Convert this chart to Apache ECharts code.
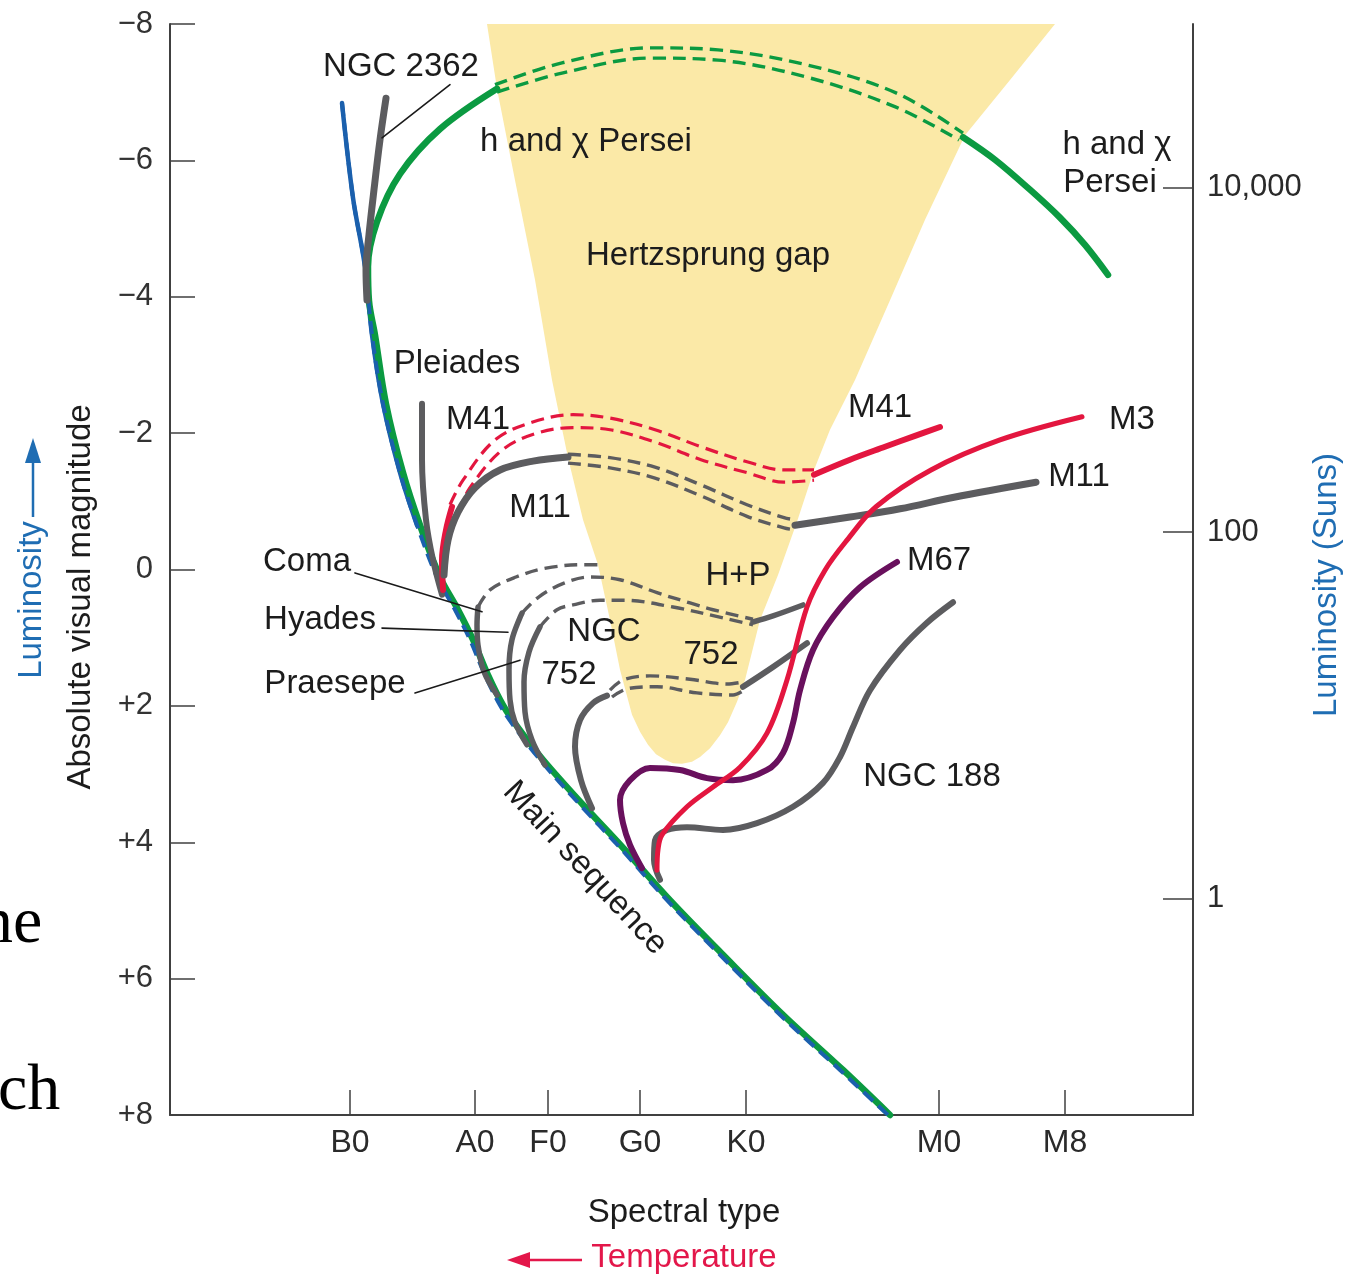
<!DOCTYPE html>
<html>
<head>
<meta charset="utf-8">
<script src="https://cdn.jsdelivr.net/npm/echarts@6/dist/echarts.min.js"></script>
<style>
html,body{margin:0;padding:0;background:#ffffff;}
#c{width:1349px;height:1278px;}
</style>
</head>
<body>
<div id="c"></div>
<script>
// ---------- axis data ----------
const spectralTypes = ['B0', 'A0', 'F0', 'G0', 'K0', 'M0', 'M8'];
const spectralPos = [18.0, 30.5, 37.8, 47.0, 57.6, 76.9, 89.5];
const lumLabels = ['10,000', '100', '1'];
const lumMags = [-5.6, -0.55, 4.83];

// ---------- curves: [spectral index, absolute magnitude] ----------
const mainSeq = [[17.2,-6.84],[18.3,-5.45],[19.5,-4.44],[20.2,-3.44],[21.3,-2.43],[23.0,-1.42],[24.7,-0.65],[26.7,0.11],[28.5,0.59],[30.0,1.03],[31.5,1.55],[33.0,1.99],[34.5,2.32],[37.0,2.79],[41.0,3.45],[45.0,4.08],[49.7,4.85],[55.0,5.65],[61.0,6.53],[67.0,7.34],[71.8,8.0]];
const mainSeqUpper = [[17.2,-6.84],[18.3,-5.45],[19.5,-4.44],[20.2,-3.44],[21.3,-2.43],[23.0,-1.42],[24.7,-0.65]];

const hchiSolidLeft = [[32.7,-7.05],[27.0,-6.46],[23.0,-5.80],[20.7,-5.10],[19.8,-4.44],[19.9,-3.94],[20.5,-3.44],[21.6,-2.43],[23.3,-1.42],[25.0,-0.65],[27.0,0.11],[28.8,0.59],[30.3,1.03],[31.8,1.55],[33.3,1.99],[34.8,2.32],[37.3,2.79],[41.3,3.45],[45.3,4.08],[50.0,4.85],[55.3,5.65],[61.3,6.53],[67.3,7.34],[72.0,8.0]];
const hchiDashUpper = [[32.5,-7.11],[39.2,-7.43],[48.1,-7.65],[54.8,-7.62],[63.7,-7.40],[72.6,-6.99],[79.3,-6.40]];
const hchiDashLower = [[32.7,-7.00],[39.2,-7.28],[48.1,-7.50],[54.8,-7.47],[63.7,-7.22],[72.6,-6.78],[78.9,-6.30]];
const hchiSolidRight = [[79.3,-6.34],[82.5,-6.01],[86.0,-5.57],[89.0,-5.16],[91.5,-4.76],[93.8,-4.32]];

const ngc2362 = [[21.6,-6.91],[21.0,-6.30],[20.4,-5.57],[19.9,-4.91],[19.6,-4.39],[19.7,-3.95]];
const pleiades = [[25.2,-2.43],[25.2,-1.61],[25.6,-0.73],[26.3,-0.14],[27.2,0.37]];

const m41Left = [[27.3,0.30],[27.2,-0.14],[27.6,-0.58],[28.2,-0.92]];
const m41DashUpper = [[28.0,-0.95],[29.3,-1.31],[32.5,-1.90],[36.2,-2.16],[40.3,-2.27],[44.0,-2.22],[48.5,-2.05],[53.1,-1.80],[57.7,-1.58],[61.4,-1.46],[64.4,-1.46]];
const m41DashLower = [[28.8,-0.84],[30.0,-1.20],[33.2,-1.75],[36.7,-2.00],[40.3,-2.08],[44.0,-2.05],[48.5,-1.87],[53.1,-1.61],[57.7,-1.42],[61.4,-1.28],[64.4,-1.31]];
const m41Right = [[64.4,-1.39],[68.0,-1.61],[71.5,-1.80],[74.5,-1.96],[77.0,-2.09]];

const m11Left = [[27.4,0.08],[27.8,-0.43],[28.8,-0.84],[30.5,-1.20],[33.0,-1.46],[36.3,-1.59],[39.8,-1.65]];
const m11DashUpper = [[39.8,-1.69],[44.0,-1.64],[48.5,-1.50],[53.1,-1.24],[57.7,-0.95],[61.4,-0.76],[62.5,-0.73]];
const m11DashLower = [[39.8,-1.56],[44.0,-1.49],[48.5,-1.34],[53.1,-1.08],[57.7,-0.78],[61.4,-0.61],[62.5,-0.58]];
const m11Right = [[62.5,-0.65],[68.0,-0.77],[73.0,-0.89],[78.4,-1.06],[86.6,-1.28]];

const m3 = [[48.7,4.41],[48.8,4.11],[49.2,3.89],[51.7,3.48],[54.3,3.19],[57.0,2.90],[59.7,2.40],[61.7,1.62],[63.7,0.55],[65.5,0.01],[67.7,-0.43],[70.6,-0.92],[76.1,-1.46],[83.0,-1.90],[91.2,-2.24]];
const m67 = [[47.2,4.38],[46.0,4.04],[45.3,3.72],[45.0,3.38],[46.0,3.09],[48.0,2.91],[51.0,2.94],[53.7,3.06],[56.3,3.09],[59.7,2.94],[61.3,2.69],[62.3,2.25],[63.0,1.77],[64.3,1.18],[66.3,0.70],[69.0,0.26],[72.7,-0.11]];
const ngc188 = [[49.0,4.55],[48.4,4.26],[48.5,3.97],[49.7,3.82],[51.7,3.78],[55.3,3.82],[58.7,3.72],[62.3,3.48],[65.3,3.13],[67.0,2.75],[68.3,2.31],[70.0,1.77],[73.0,1.18],[75.7,0.78],[78.3,0.48]];

const ngc752Left = [[42.2,3.50],[41.1,3.09],[40.5,2.60],[41.0,2.21],[42.3,1.96],[43.7,1.85]];
const ngc752DashUpper = [[44.0,1.77],[45.3,1.62],[48.0,1.56],[52.0,1.61],[55.7,1.68],[57.3,1.65]];
const ngc752DashLower = [[44.2,1.87],[45.7,1.75],[48.7,1.72],[52.7,1.81],[56.3,1.84],[57.3,1.78]];
const ngc752Right = [[57.3,1.72],[60.3,1.43],[63.7,1.08]];

const comaSolid = [[32.7,1.84],[31.4,1.50],[30.8,1.11],[30.7,0.81],[30.8,0.55]];
const comaDash = [[30.8,0.55],[32.0,0.30],[34.6,0.11],[37.6,-0.02],[41.3,-0.07],[42.8,-0.07]];
const hyadesSolid = [[35.7,2.57],[34.5,2.24],[34.0,1.91],[33.9,1.47],[34.2,1.03],[35.2,0.64]];
const hyadesDash = [[35.2,0.64],[36.9,0.40],[39.4,0.20],[42.0,0.11],[45.0,0.15],[48.7,0.34],[52.0,0.49],[54.3,0.59],[58.3,0.73]];
const praesepeSolid = [[37.5,2.87],[36.2,2.50],[35.5,2.09],[35.4,1.65],[35.9,1.21],[37.0,0.84]];
const praesepeDash = [[37.0,0.84],[38.7,0.59],[40.3,0.52],[43.0,0.45],[45.3,0.45],[50.3,0.55],[55.3,0.71],[58.3,0.81]];
const hpRight = [[58.3,0.77],[60.3,0.68],[63.3,0.52]];

// Hertzsprung gap outline
const gapLeft = [[31.7,-8.0],[32.7,-7.05],[34.5,-5.71],[36.5,-4.25],[38.2,-2.78],[39.8,-1.64],[41.3,-0.73],[42.8,-0.07],[44.0,0.74],[45.0,1.47],[46.2,2.13],[47.0,2.38],[47.8,2.57],[48.6,2.71],[49.5,2.79],[50.3,2.84],[51.2,2.85]];
const gapRight = [[52.2,2.82],[53.0,2.75],[54.0,2.62],[55.0,2.43],[55.8,2.24],[56.7,1.94],[57.5,1.62],[59.0,0.74],[60.8,0.08],[62.7,-0.70],[64.4,-1.46],[66.0,-2.05],[68.5,-2.78],[72.0,-3.95],[75.5,-5.13],[79.5,-6.37],[84.0,-7.18],[88.5,-8.0]];

// annotation texts: [text, spectral index, magnitude, rotation deg]
const annotations = [
  ['NGC 2362', 23.1, -7.37, 0],
  ['h and \u03c7 Persei', 41.6, -6.27, 0],
  ['h and \u03c7', 94.7, -6.23, 0],
  ['Persei', 94.0, -5.67, 0],
  ['Hertzsprung gap', 53.8, -4.60, 0],
  ['Pleiades', 28.7, -3.01, 0],
  ['M41', 30.8, -2.19, 0],
  ['M11', 37.0, -0.90, 0],
  ['M41', 71.0, -2.37, 0],
  ['M3', 96.2, -2.19, 0],
  ['M11', 90.9, -1.36, 0],
  ['M67', 76.9, -0.12, 0],
  ['H+P', 56.8, 0.10, 0],
  ['NGC', 43.4, 0.92, 0],
  ['752', 39.9, 1.55, 0],
  ['752', 54.1, 1.25, 0],
  ['Coma', 13.7, -0.11, 0],
  ['Hyades', 15.0, 0.74, 0],
  ['Praesepe', 16.5, 1.68, 0],
  ['NGC 188', 76.2, 3.04, 0],
  ['Main sequence', 41.5, 4.38, -47]
];
const leaderNGC2362 = [[28.0,-7.11],[21.2,-6.33]];
const leaderComa = [[18.5,0.05],[31.2,0.62]];
const leaderHyades = [[21.2,0.86],[33.8,0.92]];
const leaderPraesepe = [[24.5,1.81],[35.0,1.33]];

// ---------- styling ----------
const GRAY = '#5c5c5f', RED = '#e3163f', PURPLE = '#69105d', GREEN = '#0b9a41', BLUE = '#1b60ad', YELLOW = '#fbe9a7';
const FONT = '"Liberation Sans", Arial, Helvetica, sans-serif';
const AXIS = '#404040';

function curve(data, color, width, dashed, z, smooth) {
  return {
    type: 'line', data: data, symbol: 'none', showSymbol: false, silent: true,
    smooth: smooth === undefined ? 0.35 : smooth, z: z || 3, clip: false,
    lineStyle: { color: color, width: width, type: dashed ? [13, 7] : 'solid', cap: dashed ? 'butt' : 'round', join: 'round' }
  };
}

const chart = echarts.init(document.getElementById('c'));
const option = {
  animation: false,
  backgroundColor: '#ffffff',
  grid: { left: 170, right: 156, top: 24, bottom: 163, containLabel: false },
  xAxis: {
    type: 'value', min: 0, max: 102.3,
    axisLine: { show: true, onZero: false, lineStyle: { color: AXIS, width: 2 } },
    axisTick: { show: true, inside: true, length: 25, customValues: spectralPos, lineStyle: { color: AXIS, width: 1.5 } },
    axisLabel: {
      show: true, customValues: spectralPos, margin: 12, color: '#2a2a2a', fontSize: 32, fontFamily: FONT,
      formatter: function (v) {
        for (let i = 0; i < spectralPos.length; i++) if (Math.abs(spectralPos[i] - v) < 0.05) return spectralTypes[i];
        return '';
      }
    },
    splitLine: { show: false }
  },
  yAxis: [
    {
      type: 'value', min: -8, max: 8, interval: 2, inverse: true, position: 'left',
      axisLine: { show: true, onZero: false, lineStyle: { color: AXIS, width: 2 } },
      axisTick: { show: true, inside: true, length: 25, lineStyle: { color: AXIS, width: 1.5 } },
      axisLabel: {
        show: true, margin: 17, color: '#333333', fontSize: 31, fontFamily: FONT,
        formatter: function (v) { return v < 0 ? '\u2212' + (-v) : (v > 0 ? '+' + v : '0'); }
      },
      splitLine: { show: false }
    },
    {
      type: 'value', min: -8, max: 8, inverse: true, position: 'right',
      axisLine: { show: true, onZero: false, lineStyle: { color: AXIS, width: 2 } },
      axisTick: { show: true, inside: true, length: 30, customValues: lumMags, lineStyle: { color: AXIS, width: 1.5 } },
      axisLabel: {
        show: true, customValues: lumMags, margin: 14, color: '#2a2a2a', fontSize: 31, fontFamily: FONT,
        formatter: function (v) {
          for (let i = 0; i < lumMags.length; i++) if (Math.abs(lumMags[i] - v) < 0.01) return lumLabels[i];
          return '';
        }
      },
      splitLine: { show: false }
    }
  ],
  series: [
    {
      type: 'custom', silent: true, z: 1, clip: false, encode: { x: 0, y: 1 },
      data: [[50, 0]],
      renderItem: function (params, api) {
        const pts = gapLeft.concat(gapRight).map(function (p) { return api.coord(p); });
        return { type: 'polygon', shape: { points: pts }, style: { fill: YELLOW } };
      }
    },
    // dashed tracks through the gap
    curve(hchiDashUpper, GREEN, 3.4, true, 2),
    curve(hchiDashLower, GREEN, 3.4, true, 2),
    curve(m41DashUpper, RED, 3.2, true, 2),
    curve(m41DashLower, RED, 3.2, true, 2),
    curve(m11DashUpper, GRAY, 3.4, true, 2),
    curve(m11DashLower, GRAY, 3.4, true, 2),
    curve(comaDash, GRAY, 3.4, true, 2),
    curve(hyadesDash, GRAY, 3.4, true, 2),
    curve(praesepeDash, GRAY, 3.4, true, 2),
    curve(ngc752DashUpper, GRAY, 3.4, true, 2),
    curve(ngc752DashLower, GRAY, 3.4, true, 2),
    // main sequence and h & chi Persei
    curve(mainSeqUpper, BLUE, 4.5, false, 3),
    curve(hchiSolidLeft, GREEN, 6.5, false, 4),
    curve(mainSeq, BLUE, 4, true, 5),
    curve(hchiSolidRight, GREEN, 6.5, false, 4),
    // cluster turnoffs
    curve(ngc2362, GRAY, 7, false, 6),
    curve(pleiades, GRAY, 6, false, 6),
    curve(m41Left, RED, 6, false, 6),
    curve(m11Left, GRAY, 7, false, 7),
    curve(m41Right, RED, 6, false, 6),
    curve(m11Right, GRAY, 7, false, 6),
    curve(comaSolid, GRAY, 5.5, false, 6),
    curve(hyadesSolid, GRAY, 5.5, false, 6),
    curve(praesepeSolid, GRAY, 5.5, false, 6),
    curve(hpRight, GRAY, 5.5, false, 6),
    curve(ngc752Left, GRAY, 6, false, 6),
    curve(ngc752Right, GRAY, 6, false, 6),
    curve(ngc188, GRAY, 6, false, 6),
    curve(m67, PURPLE, 6, false, 7),
    curve(m3, RED, 5, false, 8),
    // leader lines
    curve(leaderNGC2362, '#1a1a1a', 1.6, false, 9, false),
    curve(leaderComa, '#1a1a1a', 1.6, false, 9, false),
    curve(leaderHyades, '#1a1a1a', 1.6, false, 9, false),
    curve(leaderPraesepe, '#1a1a1a', 1.6, false, 9, false),
    // labels
    {
      type: 'custom', silent: true, z: 20, clip: false, encode: { x: 0, y: 1 },
      data: annotations.map(function (a, i) { return [a[1], a[2], i]; }),
      renderItem: function (params, api) {
        const a = annotations[params.dataIndex];
        const p = api.coord([api.value(0), api.value(1)]);
        return {
          type: 'text', x: p[0], y: p[1], rotation: (a[3] || 0) * Math.PI / 180,
          style: { text: a[0], fill: '#1c1c1c', font: '33px ' + FONT, align: 'center', verticalAlign: 'middle' }
        };
      }
    }
  ],
  graphic: [
    { type: 'text', x: 81, y: 597, rotation: Math.PI / 2,
      style: { text: 'Absolute visual magnitude', fill: '#1c1c1c', font: '33px ' + FONT, align: 'center', verticalAlign: 'middle' } },
    { type: 'text', x: 32, y: 600, rotation: Math.PI / 2,
      style: { text: 'Luminosity', fill: '#1f6db3', font: '33px ' + FONT, align: 'center', verticalAlign: 'middle' } },
    { type: 'line', shape: { x1: 33, y1: 517, x2: 33, y2: 458 }, style: { stroke: '#1f6db3', lineWidth: 2.5 } },
    { type: 'polygon', shape: { points: [[33, 438], [25, 463], [41, 463]] }, style: { fill: '#1f6db3' } },
    { type: 'text', x: 1327, y: 585, rotation: Math.PI / 2,
      style: { text: 'Luminosity (Suns)', fill: '#1f6db3', font: '33px ' + FONT, align: 'center', verticalAlign: 'middle' } },
    { type: 'text', x: 684, y: 1213,
      style: { text: 'Spectral type', fill: '#1c1c1c', font: '33px ' + FONT, align: 'center', verticalAlign: 'middle' } },
    { type: 'text', x: 684, y: 1258,
      style: { text: 'Temperature', fill: '#e3174a', font: '33px ' + FONT, align: 'center', verticalAlign: 'middle' } },
    { type: 'line', shape: { x1: 524, y1: 1260, x2: 582, y2: 1260 }, style: { stroke: '#e3174a', lineWidth: 2.5 } },
    { type: 'polygon', shape: { points: [[507, 1260], [530, 1252], [530, 1268]] }, style: { fill: '#e3174a' } },
    { type: 'text', x: -20, y: 925,
      style: { text: 'ne', fill: '#000000', font: '66px "Liberation Serif", "Times New Roman", serif', align: 'left', verticalAlign: 'middle' } },
    { type: 'text', x: -2, y: 1092,
      style: { text: 'ch', fill: '#000000', font: '66px "Liberation Serif", "Times New Roman", serif', align: 'left', verticalAlign: 'middle' } }
  ]
};
chart.setOption(option);
</script>
</body>
</html>
